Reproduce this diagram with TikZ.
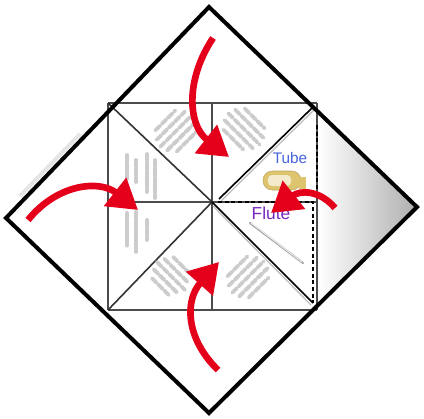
\documentclass[tikz,border=0pt]{standalone}
\usepackage{tikz}
\usetikzlibrary{calc, arrows.meta, positioning}
\usepackage{xcolor}
\usepackage{fontspec}
\setsansfont{Liberation Sans}
\definecolor{foldred}{RGB}{228,0,27}
\definecolor{tubeblue}{RGB}{70,100,220}
\definecolor{flutepurple}{RGB}{120,40,190}
\definecolor{tubegold}{RGB}{222,196,110}

\begin{document}
\begin{tikzpicture}[
	x=0.75pt, y=-0.75pt,
	every node/.style={font=\sffamily},
	paper edge/.style={line width=3pt, black, line join=miter},
	square edge/.style={line width=1.4pt, black!70},
	crease/.style={line width=1.2pt, black!80},
	fold line/.style={line width=1.2pt, black, dash pattern=on 3pt off 2pt},
	blur text/.style={line width=2.8pt, gray!40, line cap=round, dash pattern=on 5pt off 1.5pt},
	fold arrow/.style={foldred, line width=5pt, -{Triangle[length=22pt, width=26pt]}}
	]
	\useasboundingbox (0,0) rectangle (424,418);
	% =====================================================
	% KOORDINAT UTAMA
	% =====================================================
	\coordinate (DiaTop) at (209,7);
	\coordinate (DiaRight) at (417,207);
	\coordinate (DiaBottom) at (209,413);
	\coordinate (DiaLeft) at (6,218);

	\coordinate (SqNW) at (108,103);
	\coordinate (SqNE) at (317,103);
	\coordinate (SqSE) at (317,310);
	\coordinate (SqSW) at (108,310);
	\coordinate (SqN) at (212,103);
	\coordinate (SqS) at (212,310);
	\coordinate (SqW) at (108,202);
	\coordinate (SqE) at (317,202);
	\coordinate (Center) at (212,202);

	% =====================================================
	% BAYANGAN KERTAS
	% =====================================================
	\begin{scope}
		\clip (DiaTop) -- (DiaRight) -- (DiaBottom) -- (DiaLeft) -- cycle;
		\shade[left color=white, right color=black!32] (318,95) rectangle (418,320);
	\end{scope}
	\draw[gray!20, line width=3pt] (20,196) -- (80,134);

	% =====================================================
	% PERSEGI DALAM
	% =====================================================
	\fill[white] (SqNW) rectangle (313,310);
	\draw[square edge] (SqNW) -- (SqNE);
	\draw[square edge] (SqSW) -- (SqSE);
	\draw[square edge] (SqNW) -- (SqSW);
	\draw[square edge] (SqNE) -- (SqSE);
	\draw[square edge] (SqN) -- (SqS);
	\draw[square edge] (SqW) -- (SqE);

	\draw[crease] (SqNW) -- (Center);
	\draw[crease] (SqSW) -- (Center);
	\draw[gray!50, line width=1pt] (315,109) -- (221,201);
	\draw[crease, black] (313,107) -- (219,199);
	\draw[gray!50, line width=1pt] (213,206) -- (311,305);
	\draw[crease, black] (Center) -- (313,303);

	% =====================================================
	% GARIS LIPAT
	% =====================================================
	\draw[fold line] (218,202) -- (313,202) -- (313,303);
	\draw[fold line] (317,125) -- (317,190);

	% =====================================================
	% TEKS KABUR
	% =====================================================
	\begin{scope}[shift={(176,131)}, rotate=45]
		\foreach \k/\l in {-2/14,-1/20,0/22,1/20,2/14}
			\draw[blur text] (-\l,\k*7.5) -- (\l,\k*7.5);
	\end{scope}
	\begin{scope}[shift={(244,129)}, rotate=-45]
		\foreach \k/\l in {-2/14,-1/20,0/22,1/20,2/14}
			\draw[blur text] (-\l,\k*7.5) -- (\l,\k*7.5);
	\end{scope}
	\begin{scope}[shift={(171,276)}, rotate=-45]
		\foreach \k/\l in {-2/12,-1/17,0/20,1/17,2/12}
			\draw[blur text] (-\l,\k*7.5) -- (\l,\k*7.5);
	\end{scope}
	\begin{scope}[shift={(248,277)}, rotate=45]
		\foreach \k/\l in {-2/14,-1/20,0/22,1/20,2/14}
			\draw[blur text] (-\l,\k*7.5) -- (\l,\k*7.5);
	\end{scope}
	\foreach \x/\a/\b in {127/155/180, 136/160/182, 147/154/192, 155/160/198}
		\draw[blur text] (\x,\a) -- (\x,\b);
	\foreach \x/\a/\b in {127/213/246, 136/212/252, 147/220/240}
		\draw[blur text] (\x,\a) -- (\x,\b);

	% =====================================================
	% LABEL TUBE DAN FLUTE
	% =====================================================
	\node[text=tubeblue, font=\sffamily\fontsize{11.5}{13}\selectfont] (tube) at (290,158) {Tube};
	\draw[fill=tubegold, draw=tubegold!85!black, rounded corners=7pt] (263,171) rectangle (301,190);
	\fill[tubegold] (299,177) rectangle (306,189);
	\fill[tubegold!35, rounded corners=3pt] (268,175) rectangle (291,186);
	\node[text=flutepurple, font=\sffamily\fontsize{13}{15}\selectfont] (flute) at (271,213) {Flute};
	\draw[gray!70, line width=1.6pt, line cap=round] (250,223) -- (303,263);
	\draw[white, line width=0.5pt] (251,223) -- (302,262);

	% =====================================================
	% TEPI KERTAS
	% =====================================================
	\draw[paper edge] (DiaTop) -- (DiaRight) -- (DiaBottom) -- (DiaLeft) -- cycle;

	% =====================================================
	% PANAH LIPATAN
	% =====================================================
	\coordinate (TopStart) at (213,38);
	\coordinate (TopEnd) at (229,157);
	\coordinate (LeftStart) at (28,220);
	\coordinate (LeftEnd) at (138,210);
	\coordinate (BotStart) at (218,370);
	\coordinate (BotEnd) at (219,262);
	\coordinate (RightStart) at (335,208);
	\coordinate (RightEnd) at (271,213);

	\draw[fold arrow] (TopStart) .. controls (185,80) and (188,125) .. (TopEnd);
	\draw[fold arrow] (LeftStart) .. controls (58,183) and (100,180) .. (LeftEnd);
	\draw[fold arrow] (BotStart) .. controls (185,338) and (185,300) .. (BotEnd);
	\draw[fold arrow] (RightStart) .. controls (320,190) and (300,190) .. (RightEnd);

\end{tikzpicture}
\end{document}
